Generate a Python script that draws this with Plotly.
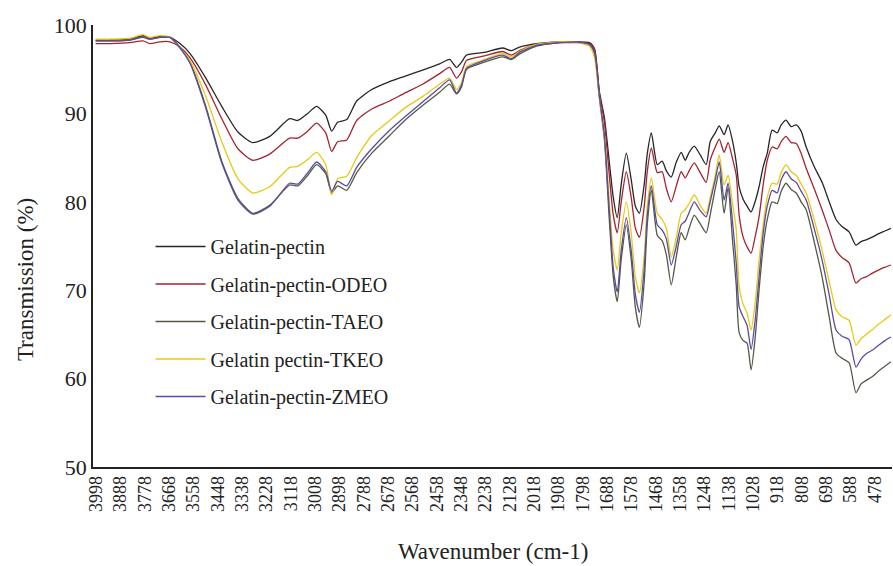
import plotly.graph_objects as go

wavenumber = [4000, 3935, 3845, 3786, 3755, 3710, 3664, 3619, 3574, 3502, 3430, 3357, 3290, 3213, 3123, 3086, 3041, 3001,
              2960, 2933, 2906, 2865, 2820, 2752, 2671, 2603, 2522, 2445, 2400, 2369, 2346, 2323, 2242, 2161, 2120, 2084,
              2007, 1904, 1836, 1768, 1745,
              1723, 1700, 1678, 1660, 1642, 1624, 1601, 1579, 1560, 1542, 1520, 1506, 1488, 1461, 1439,
              1420, 1398, 1375, 1353, 1335, 1317, 1294, 1267, 1240, 1222, 1199, 1181, 1159, 1141, 1122,
              1104, 1091, 1073, 1055, 1037, 1019, 1001, 982, 964, 942, 919, 901, 879, 856, 833,
              811, 788, 752, 716, 684, 653, 626, 594, 563, 540, 517, 490, 459, 432, 405]

gelatin_pectin = [98.3, 98.3, 98.4, 98.8, 98.5, 98.7, 98.6, 97.9, 96.8, 94.0, 90.8, 87.9, 86.7, 87.4, 89.4, 89.2, 90.0, 90.8,
                  89.8, 88.0, 89.0, 89.3, 91.4, 92.7, 93.6, 94.2, 94.9, 95.6, 96.1, 95.2, 95.8, 96.6, 96.9, 97.4, 97.1, 97.5,
                  97.9, 98.1, 98.1, 98.0, 97.3,
                  92.5, 89.5, 84.5, 80.5, 78.2, 82.0, 85.5, 82.5, 79.5, 78.7, 82.0, 85.5, 87.8, 84.2, 84.6,
                  83.5, 82.8, 84.5, 85.6, 84.7, 85.6, 86.3, 85.3, 84.2, 86.8, 87.8, 88.6, 87.6, 88.7, 87.0,
                  84.4, 81.7, 80.3, 79.5, 78.85, 80.0, 81.7, 84.0, 85.5, 88.1, 87.8, 88.7, 89.25, 88.5, 88.7,
                  88.0, 86.2, 84.0, 82.2, 80.0, 78.0, 77.2, 76.6, 75.1, 75.5, 75.7, 76.0, 76.4, 76.7, 77.0]

gp_odeo = [97.9, 97.9, 98.0, 98.2, 97.9, 98.1, 98.1, 97.5, 96.3, 93.2, 89.4, 86.0, 84.7, 85.4, 87.2, 87.2, 88.0, 88.9,
           87.8, 85.7, 86.8, 87.0, 89.2, 90.5, 91.4, 92.3, 93.3, 94.5, 95.2, 94.0, 94.7, 96.0, 96.5, 97.0, 96.6, 97.1,
           97.8, 98.0, 98.0, 97.9, 97.2,
           92.3, 89.0, 83.0, 78.5, 76.5, 80.0, 83.4, 80.5, 77.0, 76.0, 79.5, 83.5, 86.1, 83.3, 83.4,
           81.5, 80.0, 81.8, 83.4, 82.7, 83.5, 84.4, 83.3, 82.2, 84.7, 86.2, 87.1, 85.6, 86.7, 85.0,
           83.0, 78.5, 76.0, 74.9, 74.2, 76.0, 78.3, 82.0, 84.7, 86.2, 86.0, 86.8, 87.4, 86.7, 86.6,
           85.5, 83.8, 81.5, 79.1, 76.8, 74.5, 73.7, 73.1, 70.8, 71.3, 71.5, 71.9, 72.3, 72.6, 72.85]

gp_taeo = [98.2, 98.2, 98.3, 98.7, 98.4, 98.6, 98.6, 97.5, 95.8, 90.8, 84.6, 80.4, 78.7, 79.6, 81.9, 81.8, 83.0, 84.2,
           83.2, 81.0, 81.8, 81.3, 83.3, 85.5, 87.5, 89.2, 90.9, 92.4, 93.3, 92.2, 93.0, 95.0, 95.8, 96.4, 96.1, 96.7,
           97.6, 98.0, 98.1, 97.8, 96.8,
           91.8, 87.0, 78.0, 71.5, 68.7, 73.5, 77.4, 73.5, 68.0, 65.8, 71.0, 77.5, 81.3, 76.2, 75.6,
           74.0, 70.6, 73.8, 76.5, 75.7, 77.0, 78.5, 77.5, 76.5, 78.5, 81.5, 83.4, 78.7, 81.6, 76.0,
           70.5, 65.2, 64.3, 64.0, 61.0, 64.5, 70.0, 75.0, 78.0, 80.0, 79.8, 81.2, 82.1, 81.4, 81.0,
           80.0, 79.1, 75.5, 71.5, 67.0, 62.9, 62.3, 61.8, 58.4, 59.4, 59.8, 60.2, 60.9, 61.4, 61.9]

gp_tkeo = [98.4, 98.4, 98.5, 98.9, 98.6, 98.8, 98.6, 97.4, 96.0, 91.9, 86.8, 82.6, 81.0, 81.7, 83.9, 84.0, 84.8, 85.6,
           84.2, 80.8, 82.6, 82.9, 85.0, 87.5, 89.2, 90.6, 91.9, 93.3, 94.0, 92.7, 93.5, 95.3, 96.1, 96.8, 96.4, 97.0,
           97.8, 98.1, 98.1, 97.6, 96.3,
           91.8, 87.5, 80.0, 74.5, 72.3, 76.5, 80.0, 76.5, 71.5, 69.7, 74.0, 79.5, 82.7, 78.7, 78.0,
           77.0, 73.75, 76.0, 78.7, 79.1, 79.8, 80.8, 79.6, 78.7, 80.5, 83.0, 85.3, 81.9, 83.0, 80.0,
           76.8, 70.4, 68.4, 67.4, 65.5, 68.5, 73.4, 77.5, 80.5, 82.1, 82.0, 83.3, 84.2, 83.4, 83.0,
           82.0, 81.0, 78.0, 74.5, 71.0, 67.8, 67.0, 66.6, 63.8, 64.5, 65.0, 65.5, 66.2, 66.7, 67.2]

gp_zmeo = [98.2, 98.2, 98.3, 98.6, 98.4, 98.6, 98.6, 97.4, 95.7, 90.6, 84.4, 80.2, 78.6, 79.5, 82.1, 82.0, 83.3, 84.5,
           83.4, 81.2, 82.3, 81.8, 83.9, 86.0, 88.1, 89.6, 91.3, 92.9, 93.8, 92.3, 93.2, 95.1, 96.0, 96.6, 96.2, 96.9,
           97.7, 98.0, 98.1, 97.8, 96.9,
           92.0, 87.5, 79.0, 72.5, 69.8, 74.5, 78.2, 74.5, 69.5, 67.5, 72.5, 78.5, 81.8, 77.4, 76.8,
           75.8, 72.85, 75.0, 77.4, 77.8, 78.8, 80.0, 79.0, 78.3, 80.0, 82.5, 84.5, 80.2, 82.1, 78.0,
           73.0, 68.1, 67.0, 66.0, 63.3, 66.5, 71.5, 76.5, 79.5, 81.3, 81.0, 82.5, 83.4, 82.6, 82.2,
           81.2, 80.2, 77.0, 73.4, 69.5, 65.5, 64.8, 64.4, 61.3, 62.2, 62.8, 63.2, 63.8, 64.3, 64.7]

series_names = ["Gelatin-pectin", "Gelatin-pectin-ODEO", "Gelatin-pectin-TAEO", "Gelatin pectin-TKEO", "Gelatin-pectin-ZMEO"]
series_values = [gelatin_pectin, gp_odeo, gp_taeo, gp_tkeo, gp_zmeo]
series_colors = ["#262626", "#a3242f", "#4f5a48", "#e8c916", "#5b4b9e"]

tick_labels = [3998, 3888, 3778, 3668, 3558, 3448, 3338, 3228, 3118, 3008, 2898, 2788, 2678, 2568, 2458, 2348,
               2238, 2128, 2018, 1908, 1798, 1688, 1578, 1468, 1358, 1248, 1138, 1028, 918, 808, 698, 588, 478]
y_ticks = [50, 60, 70, 80, 90, 100]

SERIF = "Liberation Serif, Times New Roman, serif"
TXT = "#222"

fig = go.Figure()
for i, (name, vals, col) in enumerate(zip(series_names, series_values, series_colors)):
    fig.add_trace(go.Scatter(
        x=wavenumber, y=vals, mode="lines", name=name,
        line=dict(color=col, width=1.3, shape="spline", smoothing=0.6),
        legendgroup=f"g{i}",
    ))

fig.update_layout(
    width=893, height=566,
    margin=dict(l=93, r=1, t=25, b=99, autoexpand=False),
    paper_bgcolor="white", plot_bgcolor="white",
    font=dict(family=SERIF, color=TXT),
    showlegend=True,
    legend=dict(x=0.072, y=0.543, xanchor="left", yanchor="top",
                bgcolor="rgba(0,0,0,0)", font=dict(family=SERIF, size=20, color=TXT),
                tracegroupgap=8.5, traceorder="grouped", itemwidth=50),
    xaxis=dict(
        range=[4012, 400], tickmode="array", tickvals=tick_labels,
        ticktext=[str(t) for t in tick_labels], tickangle=-90,
        tickfont=dict(family=SERIF, size=18, color=TXT),
        showgrid=False, zeroline=False, showline=True, linecolor="#222", linewidth=1.5,
        ticks="", automargin=False,
    ),
    yaxis=dict(
        range=[50, 100], tickmode="array", tickvals=y_ticks,
        tickfont=dict(family=SERIF, size=22, color=TXT),
        showgrid=False, zeroline=False, showline=True, linecolor="#222", linewidth=1.5,
        ticks="", automargin=False,
    ),
    annotations=[
        dict(text="Transmission (%)", xref="paper", yref="paper", x=-0.085, y=0.423,
             xanchor="center", yanchor="middle", textangle=-90, showarrow=False,
             font=dict(family=SERIF, size=23, color=TXT)),
        dict(text="Wavenumber (cm-1)", xref="paper", yref="paper", x=0.5, y=-0.192,
             xanchor="center", yanchor="middle", showarrow=False,
             font=dict(family=SERIF, size=23, color=TXT)),
    ],
)

fig.write_html("out.html", config={"displayModeBar": False},
               post_script="document.body.style.margin='0';document.body.style.overflow='hidden';")
